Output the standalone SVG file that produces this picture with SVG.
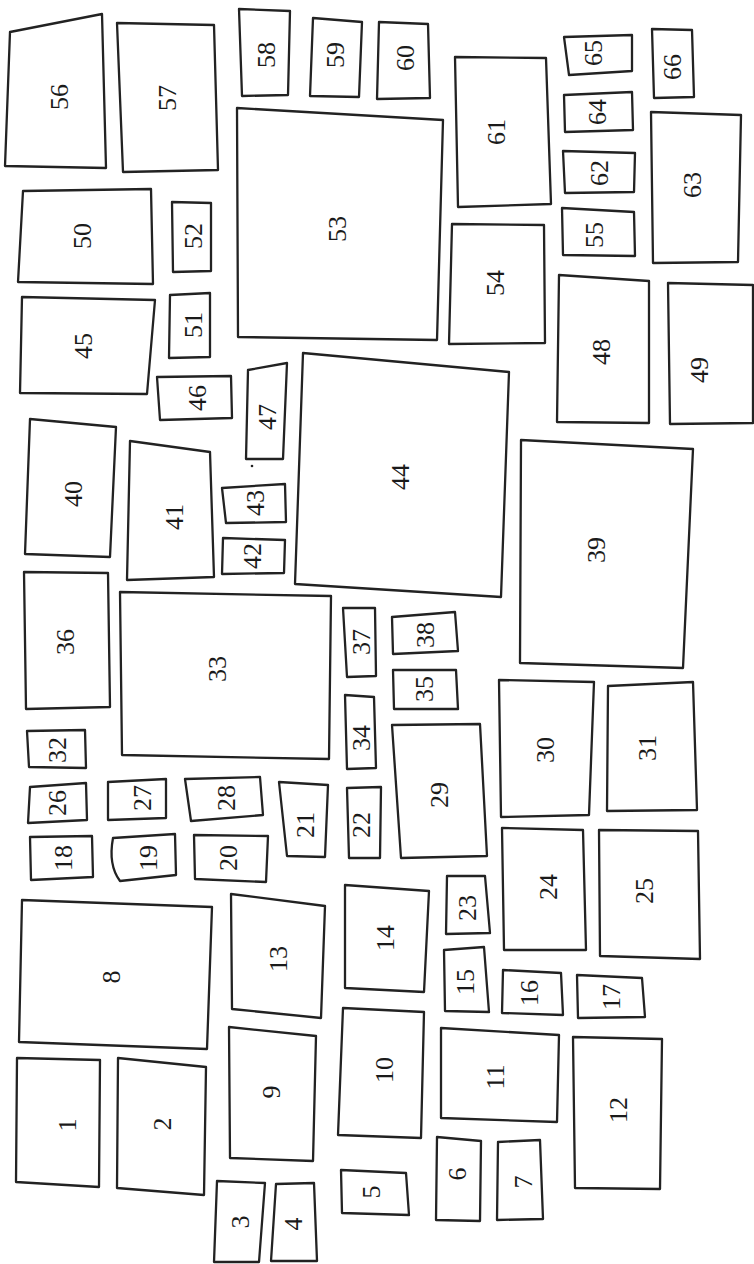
<svg xmlns="http://www.w3.org/2000/svg" width="754" height="1264" viewBox="0 0 754 1264">
<style>
.b{fill:none;stroke:#222;stroke-width:2.3;stroke-linejoin:round;stroke-linecap:round}
.t{font-family:"Liberation Serif","DejaVu Serif",serif;font-size:26px;fill:#1a1a1a;text-anchor:middle}
</style>
<rect width="754" height="1264" fill="#ffffff"/>
<g id="connectors"></g>
<g id="n1"><path class="b" d="M17,1058 L100,1060 L99,1187 L16,1182 Z"/><text class="t" transform="translate(67,1125) rotate(-90)" dy="0.34em">1</text></g>
<g id="n2"><path class="b" d="M118,1058 L206,1067 L204,1195 L117,1188 Z"/><text class="t" transform="translate(162,1124) rotate(-90)" dy="0.34em">2</text></g>
<g id="n3"><path class="b" d="M217,1181 L265,1183 L259,1262 L214,1262 Z"/><text class="t" transform="translate(240,1222) rotate(-90)" dy="0.34em">3</text></g>
<g id="n4"><path class="b" d="M276,1184 L314,1183 L317,1261 L271,1261 Z"/><text class="t" transform="translate(293,1224) rotate(-90)" dy="0.34em">4</text></g>
<g id="n5"><path class="b" d="M341,1170 L406,1173 L409,1215 L342,1213 Z"/><text class="t" transform="translate(371,1192) rotate(-90)" dy="0.34em">5</text></g>
<g id="n6"><path class="b" d="M437,1137 L481,1141 L480,1221 L436,1220 Z"/><text class="t" transform="translate(457,1174) rotate(-90)" dy="0.34em">6</text></g>
<g id="n7"><path class="b" d="M498,1142 L540,1140 L543,1219 L497,1220 Z"/><text class="t" transform="translate(523,1182) rotate(-90)" dy="0.34em">7</text></g>
<g id="n8"><path class="b" d="M22,900 L212,907 L207,1049 L19,1042 Z"/><text class="t" transform="translate(111,977) rotate(-90)" dy="0.34em">8</text></g>
<g id="n9"><path class="b" d="M229,1027 L316,1036 L313,1161 L230,1158 Z"/><text class="t" transform="translate(271,1092) rotate(-90)" dy="0.34em">9</text></g>
<g id="n10"><path class="b" d="M343,1008 L424,1012 L421,1138 L338,1135 Z"/><text class="t" transform="translate(384,1070) rotate(-90)" dy="0.34em">10</text></g>
<g id="n11"><path class="b" d="M441,1028 L559,1035 L557,1122 L441,1118 Z"/><text class="t" transform="translate(495,1077) rotate(-90)" dy="0.34em">11</text></g>
<g id="n12"><path class="b" d="M573,1037 L662,1039 L660,1189 L575,1188 Z"/><text class="t" transform="translate(618,1110) rotate(-90)" dy="0.34em">12</text></g>
<g id="n13"><path class="b" d="M231,894 L325,906 L321,1018 L232,1009 Z"/><text class="t" transform="translate(278,959) rotate(-90)" dy="0.34em">13</text></g>
<g id="n14"><path class="b" d="M345,885 L429,891 L424,992 L345,988 Z"/><text class="t" transform="translate(385,938) rotate(-90)" dy="0.34em">14</text></g>
<g id="n15"><path class="b" d="M444,950 L484,947 L489,1012 L445,1011 Z"/><text class="t" transform="translate(465,982) rotate(-90)" dy="0.34em">15</text></g>
<g id="n16"><path class="b" d="M503,970 L561,973 L563,1015 L502,1013 Z"/><text class="t" transform="translate(529,993) rotate(-90)" dy="0.34em">16</text></g>
<g id="n17"><path class="b" d="M577,975 L642,978 L645,1017 L578,1018 Z"/><text class="t" transform="translate(611,997) rotate(-90)" dy="0.34em">17</text></g>
<g id="n18"><path class="b" d="M30,837 L92,836 L93,877 L31,880 Z"/><text class="t" transform="translate(63,858) rotate(-90)" dy="0.34em">18</text></g>
<g id="n19"><path class="b" d="M113,838 L175,834 L176,875 L120,881 Q108,865 113,838 Z"/><text class="t" transform="translate(148,858) rotate(-90)" dy="0.34em">19</text></g>
<g id="n20"><path class="b" d="M194,835 L268,836 L266,882 L195,879 Z"/><text class="t" transform="translate(228,858) rotate(-90)" dy="0.34em">20</text></g>
<g id="n21"><path class="b" d="M279,782 L328,785 L325,857 L287,856 Z"/><text class="t" transform="translate(305,825) rotate(-90)" dy="0.34em">21</text></g>
<g id="n22"><path class="b" d="M347,788 L381,787 L380,858 L349,858 Z"/><text class="t" transform="translate(361,825) rotate(-90)" dy="0.34em">22</text></g>
<g id="n23"><path class="b" d="M447,876 L485,876 L490,933 L446,934 Z"/><text class="t" transform="translate(467,908) rotate(-90)" dy="0.34em">23</text></g>
<g id="n24"><path class="b" d="M502,828 L583,830 L586,950 L504,950 Z"/><text class="t" transform="translate(548,887) rotate(-90)" dy="0.34em">24</text></g>
<g id="n25"><path class="b" d="M599,830 L698,831 L700,959 L600,956 Z"/><text class="t" transform="translate(644,891) rotate(-90)" dy="0.34em">25</text></g>
<g id="n26"><path class="b" d="M30,787 L86,783 L87,820 L28,823 Z"/><text class="t" transform="translate(57,803) rotate(-90)" dy="0.34em">26</text></g>
<g id="n27"><path class="b" d="M108,782 L166,779 L166,818 L108,820 Z"/><text class="t" transform="translate(142,798) rotate(-90)" dy="0.34em">27</text></g>
<g id="n28"><path class="b" d="M185,779 L260,777 L263,815 L191,821 Z"/><text class="t" transform="translate(226,798) rotate(-90)" dy="0.34em">28</text></g>
<g id="n29"><path class="b" d="M392,725 L480,724 L487,856 L401,858 Z"/><text class="t" transform="translate(439,795) rotate(-90)" dy="0.34em">29</text></g>
<g id="n30"><path class="b" d="M499,680 L594,682 L589,815 L501,817 Z"/><text class="t" transform="translate(545,750) rotate(-90)" dy="0.34em">30</text></g>
<g id="n31"><path class="b" d="M608,686 L693,682 L697,810 L607,811 Z"/><text class="t" transform="translate(647,748) rotate(-90)" dy="0.34em">31</text></g>
<g id="n32"><path class="b" d="M27,731 L85,730 L86,768 L29,767 Z"/><text class="t" transform="translate(57,750) rotate(-90)" dy="0.34em">32</text></g>
<g id="n33"><path class="b" d="M120,592 L331,596 L329,759 L122,755 Z"/><text class="t" transform="translate(217,669) rotate(-90)" dy="0.34em">33</text></g>
<g id="n34"><path class="b" d="M345,695 L374,697 L376,768 L347,769 Z"/><text class="t" transform="translate(361,738) rotate(-90)" dy="0.34em">34</text></g>
<g id="n35"><path class="b" d="M393,670 L456,670 L458,709 L394,709 Z"/><text class="t" transform="translate(424,689) rotate(-90)" dy="0.34em">35</text></g>
<g id="n36"><path class="b" d="M24,572 L108,573 L110,707 L26,709 Z"/><text class="t" transform="translate(65,642) rotate(-90)" dy="0.34em">36</text></g>
<g id="n37"><path class="b" d="M343,608 L375,608 L376,676 L347,677 Z"/><text class="t" transform="translate(361,642) rotate(-90)" dy="0.34em">37</text></g>
<g id="n38"><path class="b" d="M392,617 L455,612 L458,651 L393,654 Z"/><text class="t" transform="translate(425,635) rotate(-90)" dy="0.34em">38</text></g>
<g id="n39"><path class="b" d="M521,440 L693,449 L683,668 L520,663 Z"/><text class="t" transform="translate(596,550) rotate(-90)" dy="0.34em">39</text></g>
<g id="n40"><path class="b" d="M30,419 L116,427 L110,557 L25,554 Z"/><text class="t" transform="translate(73,494) rotate(-90)" dy="0.34em">40</text></g>
<g id="n41"><path class="b" d="M130,441 L210,452 L214,577 L127,580 Z"/><text class="t" transform="translate(174,517) rotate(-90)" dy="0.34em">41</text></g>
<g id="n42"><path class="b" d="M223,538 L285,540 L284,573 L222,574 Z"/><text class="t" transform="translate(252,556) rotate(-90)" dy="0.34em">42</text></g>
<g id="n43"><path class="b" d="M222,488 L285,484 L286,522 L226,523 Z"/><text class="t" transform="translate(255,503) rotate(-90)" dy="0.34em">43</text></g>
<g id="n44"><path class="b" d="M303,353 L509,372 L501,597 L295,584 Z"/><text class="t" transform="translate(400,477) rotate(-90)" dy="0.34em">44</text></g>
<g id="n45"><path class="b" d="M22,297 L155,300 L147,394 L20,393 Z"/><text class="t" transform="translate(83,346) rotate(-90)" dy="0.34em">45</text></g>
<g id="n46"><path class="b" d="M157,377 L231,376 L232,418 L160,420 Z"/><text class="t" transform="translate(197,398) rotate(-90)" dy="0.34em">46</text></g>
<g id="n47"><path class="b" d="M248,370 L287,363 L283,459 L246,459 Z"/><circle cx="252" cy="466" r="1.3" fill="#222"/><text class="t" transform="translate(267,417) rotate(-90)" dy="0.34em">47</text></g>
<g id="n48"><path class="b" d="M559,275 L649,281 L649,423 L557,422 Z"/><text class="t" transform="translate(601,352) rotate(-90)" dy="0.34em">48</text></g>
<g id="n49"><path class="b" d="M668,283 L753,285 L753,423 L670,424 Z"/><text class="t" transform="translate(699,370) rotate(-90)" dy="0.34em">49</text></g>
<g id="n50"><path class="b" d="M23,191 L151,189 L153,284 L18,282 Z"/><text class="t" transform="translate(82,236) rotate(-90)" dy="0.34em">50</text></g>
<g id="n51"><path class="b" d="M170,295 L210,293 L210,357 L169,358 Z"/><text class="t" transform="translate(193,325) rotate(-90)" dy="0.34em">51</text></g>
<g id="n52"><path class="b" d="M172,202 L211,203 L211,271 L173,272 Z"/><text class="t" transform="translate(193,236) rotate(-90)" dy="0.34em">52</text></g>
<g id="n53"><path class="b" d="M237,108 L443,120 L437,340 L238,337 Z"/><text class="t" transform="translate(337,229) rotate(-90)" dy="0.34em">53</text></g>
<g id="n54"><path class="b" d="M452,224 L544,225 L545,343 L449,344 Z"/><text class="t" transform="translate(495,283) rotate(-90)" dy="0.34em">54</text></g>
<g id="n55"><path class="b" d="M562,208 L634,212 L635,256 L563,255 Z"/><text class="t" transform="translate(594,235) rotate(-90)" dy="0.34em">55</text></g>
<g id="n56"><path class="b" d="M10,32 L102,14 L106,168 L5,166 Z"/><text class="t" transform="translate(59,97) rotate(-90)" dy="0.34em">56</text></g>
<g id="n57"><path class="b" d="M117,23 L214,25 L218,170 L123,172 Z"/><text class="t" transform="translate(167,98) rotate(-90)" dy="0.34em">57</text></g>
<g id="n58"><path class="b" d="M239,9 L290,11 L288,95 L242,96 Z"/><text class="t" transform="translate(266,55) rotate(-90)" dy="0.34em">58</text></g>
<g id="n59"><path class="b" d="M313,18 L362,22 L359,97 L310,96 Z"/><text class="t" transform="translate(335,55) rotate(-90)" dy="0.34em">59</text></g>
<g id="n60"><path class="b" d="M379,22 L428,24 L430,98 L377,99 Z"/><text class="t" transform="translate(405,58) rotate(-90)" dy="0.34em">60</text></g>
<g id="n61"><path class="b" d="M455,57 L546,58 L551,204 L458,207 Z"/><text class="t" transform="translate(496,132) rotate(-90)" dy="0.34em">61</text></g>
<g id="n62"><path class="b" d="M563,151 L635,153 L634,192 L565,193 Z"/><text class="t" transform="translate(599,173) rotate(-90)" dy="0.34em">62</text></g>
<g id="n63"><path class="b" d="M651,112 L741,115 L738,262 L653,263 Z"/><text class="t" transform="translate(692,185) rotate(-90)" dy="0.34em">63</text></g>
<g id="n64"><path class="b" d="M564,95 L632,92 L633,130 L565,132 Z"/><text class="t" transform="translate(597,112) rotate(-90)" dy="0.34em">64</text></g>
<g id="n65"><path class="b" d="M564,37 L632,35 L632,71 L569,75 Z"/><text class="t" transform="translate(593,53) rotate(-90)" dy="0.34em">65</text></g>
<g id="n66"><path class="b" d="M652,29 L692,30 L694,97 L654,98 Z"/><text class="t" transform="translate(672,67) rotate(-90)" dy="0.34em">66</text></g>
</svg>
